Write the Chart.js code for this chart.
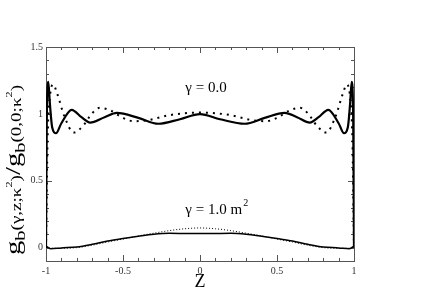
<!DOCTYPE html>
<html lang="en">
<head>
  <meta charset="UTF-8">
  <script src="https://cdn.jsdelivr.net/npm/chart.js"></script>
  <title>g_b profile</title>
  <style>
    body { margin: 0; background: #fff; }
  </style>
</head>
<body>
  <canvas id="myChart" width="436" height="308"></canvas>

  <script>
    // gamma = 0.0, solid
    const zSolid0 = [-1, -0.995, -0.985, -0.975, -0.96, -0.935, -0.9, -0.833, -0.77, -0.714, -0.62, -0.54, -0.4, -0.27, -0.13, 0,
                     0.13, 0.29, 0.42, 0.55, 0.63, 0.714, 0.77, 0.833, 0.9, 0.935, 0.96, 0.975, 0.985, 0.995, 1];
    const gSolid0 = [0, 0.95, 1.24, 1.08, 0.9, 0.855, 0.93, 1.03, 0.975, 0.935, 0.975, 1.007, 0.97, 0.926, 0.96, 0.998,
                     0.96, 0.926, 0.97, 1.007, 0.975, 0.935, 0.975, 1.03, 0.93, 0.855, 0.9, 1.08, 1.24, 0.95, 0];

    // gamma = 0.0, dotted
    const zDot0 = [-1, -0.99, -0.975, -0.953, -0.93, -0.88, -0.82, -0.76, -0.7, -0.65, -0.58, -0.5, -0.43, -0.33, -0.2, -0.1, 0,
                   0.1, 0.2, 0.33, 0.43, 0.5, 0.58, 0.65, 0.7, 0.76, 0.82, 0.88, 0.93, 0.953, 0.975, 0.99, 1];
    const gDot0 = [0, 0.8, 1.12, 1.22, 1.16, 0.98, 0.86, 0.91, 1.005, 1.045, 1.025, 0.97, 0.945, 0.955, 0.99, 1.005, 1.01,
                   1.005, 0.99, 0.955, 0.945, 0.97, 1.025, 1.045, 1.005, 0.91, 0.86, 0.98, 1.16, 1.22, 1.12, 0.8, 0];

    // gamma = 1.0 m^2, solid
    const zSolid1 = [-1, -0.985, -0.97, -0.9, -0.8, -0.7, -0.6, -0.5, -0.4, -0.3, -0.2, -0.1, 0,
                     0.1, 0.2, 0.3, 0.4, 0.5, 0.6, 0.7, 0.8, 0.9, 0.97, 0.985, 1];
    const gSolid1 = [0.012, 0.0, -0.008, -0.002, 0.005, 0.025, 0.05, 0.068, 0.085, 0.1, 0.107, 0.106, 0.105,
                     0.106, 0.107, 0.1, 0.085, 0.068, 0.05, 0.025, 0.005, -0.002, -0.008, 0.0, 0.012];

    // gamma = 1.0 m^2, dotted
    const zDot1 = [-1, -0.97, -0.9, -0.8, -0.7, -0.6, -0.5, -0.4, -0.3, -0.2, -0.1, 0,
                   0.1, 0.2, 0.3, 0.4, 0.5, 0.6, 0.7, 0.8, 0.9, 0.97, 1];
    const gDot1 = [0.005, -0.005, -0.005, 0.0, 0.018, 0.042, 0.064, 0.088, 0.108, 0.127, 0.141, 0.147,
                   0.141, 0.127, 0.108, 0.088, 0.064, 0.042, 0.018, 0.0, -0.005, -0.005, 0.005];

    const xTickLabels = [-1, -0.5, 0, 0.5, 1];
    const yTickLabels = [0, 0.5, 1, 1.5];

    function pts(xs, ys) {
      return xs.map((x, i) => ({ x: x, y: ys[i] }));
    }

    const serif = '"Liberation Serif", "DejaVu Serif", serif';

    // frame, inward ticks and texts
    const decorations = {
      id: 'decorations',
      beforeDatasetsDraw(chart) {
        const ctx = chart.ctx;
        const a = chart.chartArea;
        const xs = chart.scales.x, ys = chart.scales.y;
        ctx.save();
        ctx.strokeStyle = '#555';
        ctx.lineWidth = 1;
        ctx.strokeRect(a.left + 0.5, a.top + 0.5, a.right - a.left, a.bottom - a.top);
        ctx.beginPath();
        for (let i = -10; i <= 10; i++) {
          const px = Math.round(xs.getPixelForValue(i / 10)) + 0.5;
          const len = (i % 5 === 0) ? 6 : 3;
          ctx.moveTo(px, a.bottom); ctx.lineTo(px, a.bottom - len);
          ctx.moveTo(px, a.top); ctx.lineTo(px, a.top + len);
        }
        for (let i = 0; i <= 15; i++) {
          const py = Math.round(ys.getPixelForValue(i / 10)) + 0.5;
          const len = (i % 5 === 0) ? 6 : 3;
          ctx.moveTo(a.left, py); ctx.lineTo(a.left + len, py);
          ctx.moveTo(a.right, py); ctx.lineTo(a.right - len, py);
        }
        ctx.stroke();
        ctx.restore();
      },
      afterDraw(chart) {
        const ctx = chart.ctx;
        const xs = chart.scales.x, ys = chart.scales.y;
        ctx.save();
        ctx.fillStyle = '#000';
        ctx.textBaseline = 'alphabetic';

        // curve labels
        ctx.font = '15px ' + serif;
        ctx.textAlign = 'left';
        let x0 = xs.getPixelForValue(-0.095);
        ctx.fillText('\u03b3 = 0.0', x0, ys.getPixelForValue(1.16));
        let y1 = ys.getPixelForValue(0.25);
        ctx.fillText('\u03b3 = 1.0 m', x0, y1);
        const w1 = ctx.measureText('\u03b3 = 1.0 m').width;
        ctx.font = '10px ' + serif;
        ctx.fillText('2', x0 + w1 + 1, y1 - 8);

        // x title
        ctx.font = '18px ' + serif;
        ctx.textAlign = 'center';
        ctx.fillText('Z', xs.getPixelForValue(0), 287);

        // y title, rotated, with sub/superscripts
        const parts = [
          { t: 'g', f: 21, dy: 0 },
          { t: 'b', f: 15, dy: 5 },
          { t: '(\u03b3,z;\u03ba', f: 14, dy: 1 },
          { t: '2', f: 9, dy: -8 },
          { t: ')', f: 14, dy: 1 },
          { t: '/', f: 21, dy: 0 },
          { t: 'g', f: 21, dy: 0 },
          { t: 'b', f: 15, dy: 5 },
          { t: '(0,0;\u03ba', f: 14, dy: 1 },
          { t: '2', f: 9, dy: -8 },
          { t: ')', f: 14, dy: 1 }
        ];
        let total = 0;
        parts.forEach(p => {
          ctx.font = p.f + 'px ' + serif;
          p.w = ctx.measureText(p.t).width;
          total += p.w;
        });
        const target = 170;
        ctx.translate(20, 255);
        ctx.rotate(-Math.PI / 2);
        ctx.scale(target / total, 1);
        ctx.textAlign = 'left';
        let cx = 0;
        parts.forEach(p => {
          ctx.font = p.f + 'px ' + serif;
          ctx.fillText(p.t, cx, p.dy);
          cx += p.w;
        });
        ctx.restore();
      }
    };

    new Chart(document.getElementById('myChart'), {
      type: 'line',
      data: {
        datasets: [
          {
            label: 'gamma 0 solid',
            data: pts(zSolid0, gSolid0),
            borderColor: '#000',
            borderWidth: 2.2,
            pointRadius: 0,
            cubicInterpolationMode: 'monotone'
          },
          {
            label: 'gamma 0 dotted',
            data: pts(zDot0, gDot0),
            borderColor: '#000',
            borderWidth: 2,
            borderDash: [2, 5],
            pointRadius: 0,
            cubicInterpolationMode: 'monotone'
          },
          {
            label: 'gamma 1 solid',
            data: pts(zSolid1, gSolid1),
            borderColor: '#000',
            borderWidth: 1.5,
            pointRadius: 0,
            cubicInterpolationMode: 'monotone'
          },
          {
            label: 'gamma 1 dotted',
            data: pts(zDot1, gDot1),
            borderColor: '#000',
            borderWidth: 1,
            borderDash: [1, 2],
            pointRadius: 0,
            cubicInterpolationMode: 'monotone'
          }
        ]
      },
      options: {
        responsive: false,
        animation: false,
        layout: { padding: { top: 47, right: 82, left: 0, bottom: 0 } },
        plugins: { legend: { display: false }, tooltip: { enabled: false } },
        scales: {
          x: {
            type: 'linear',
            min: -1,
            max: 1,
            afterBuildTicks: (s) => { s.ticks = xTickLabels.map(v => ({ value: v })); },
            afterFit: (s) => { s.height = 47; },
            grid: { display: false, drawTicks: false },
            border: { display: false },
            ticks: {
              padding: 4,
              color: '#333',
              font: { family: serif, size: 10 },
              maxRotation: 0,
              callback: (v) => String(v)
            }
          },
          y: {
            type: 'linear',
            min: -0.1,
            max: 1.5,
            afterBuildTicks: (s) => { s.ticks = yTickLabels.map(v => ({ value: v })); },
            afterFit: (s) => { s.width = 46; },
            grid: { display: false, drawTicks: false },
            border: { display: false },
            ticks: {
              padding: 3,
              color: '#333',
              font: { family: serif, size: 10 },
              callback: (v) => String(v)
            }
          }
        }
      },
      plugins: [decorations]
    });
  </script>
</body>
</html>
